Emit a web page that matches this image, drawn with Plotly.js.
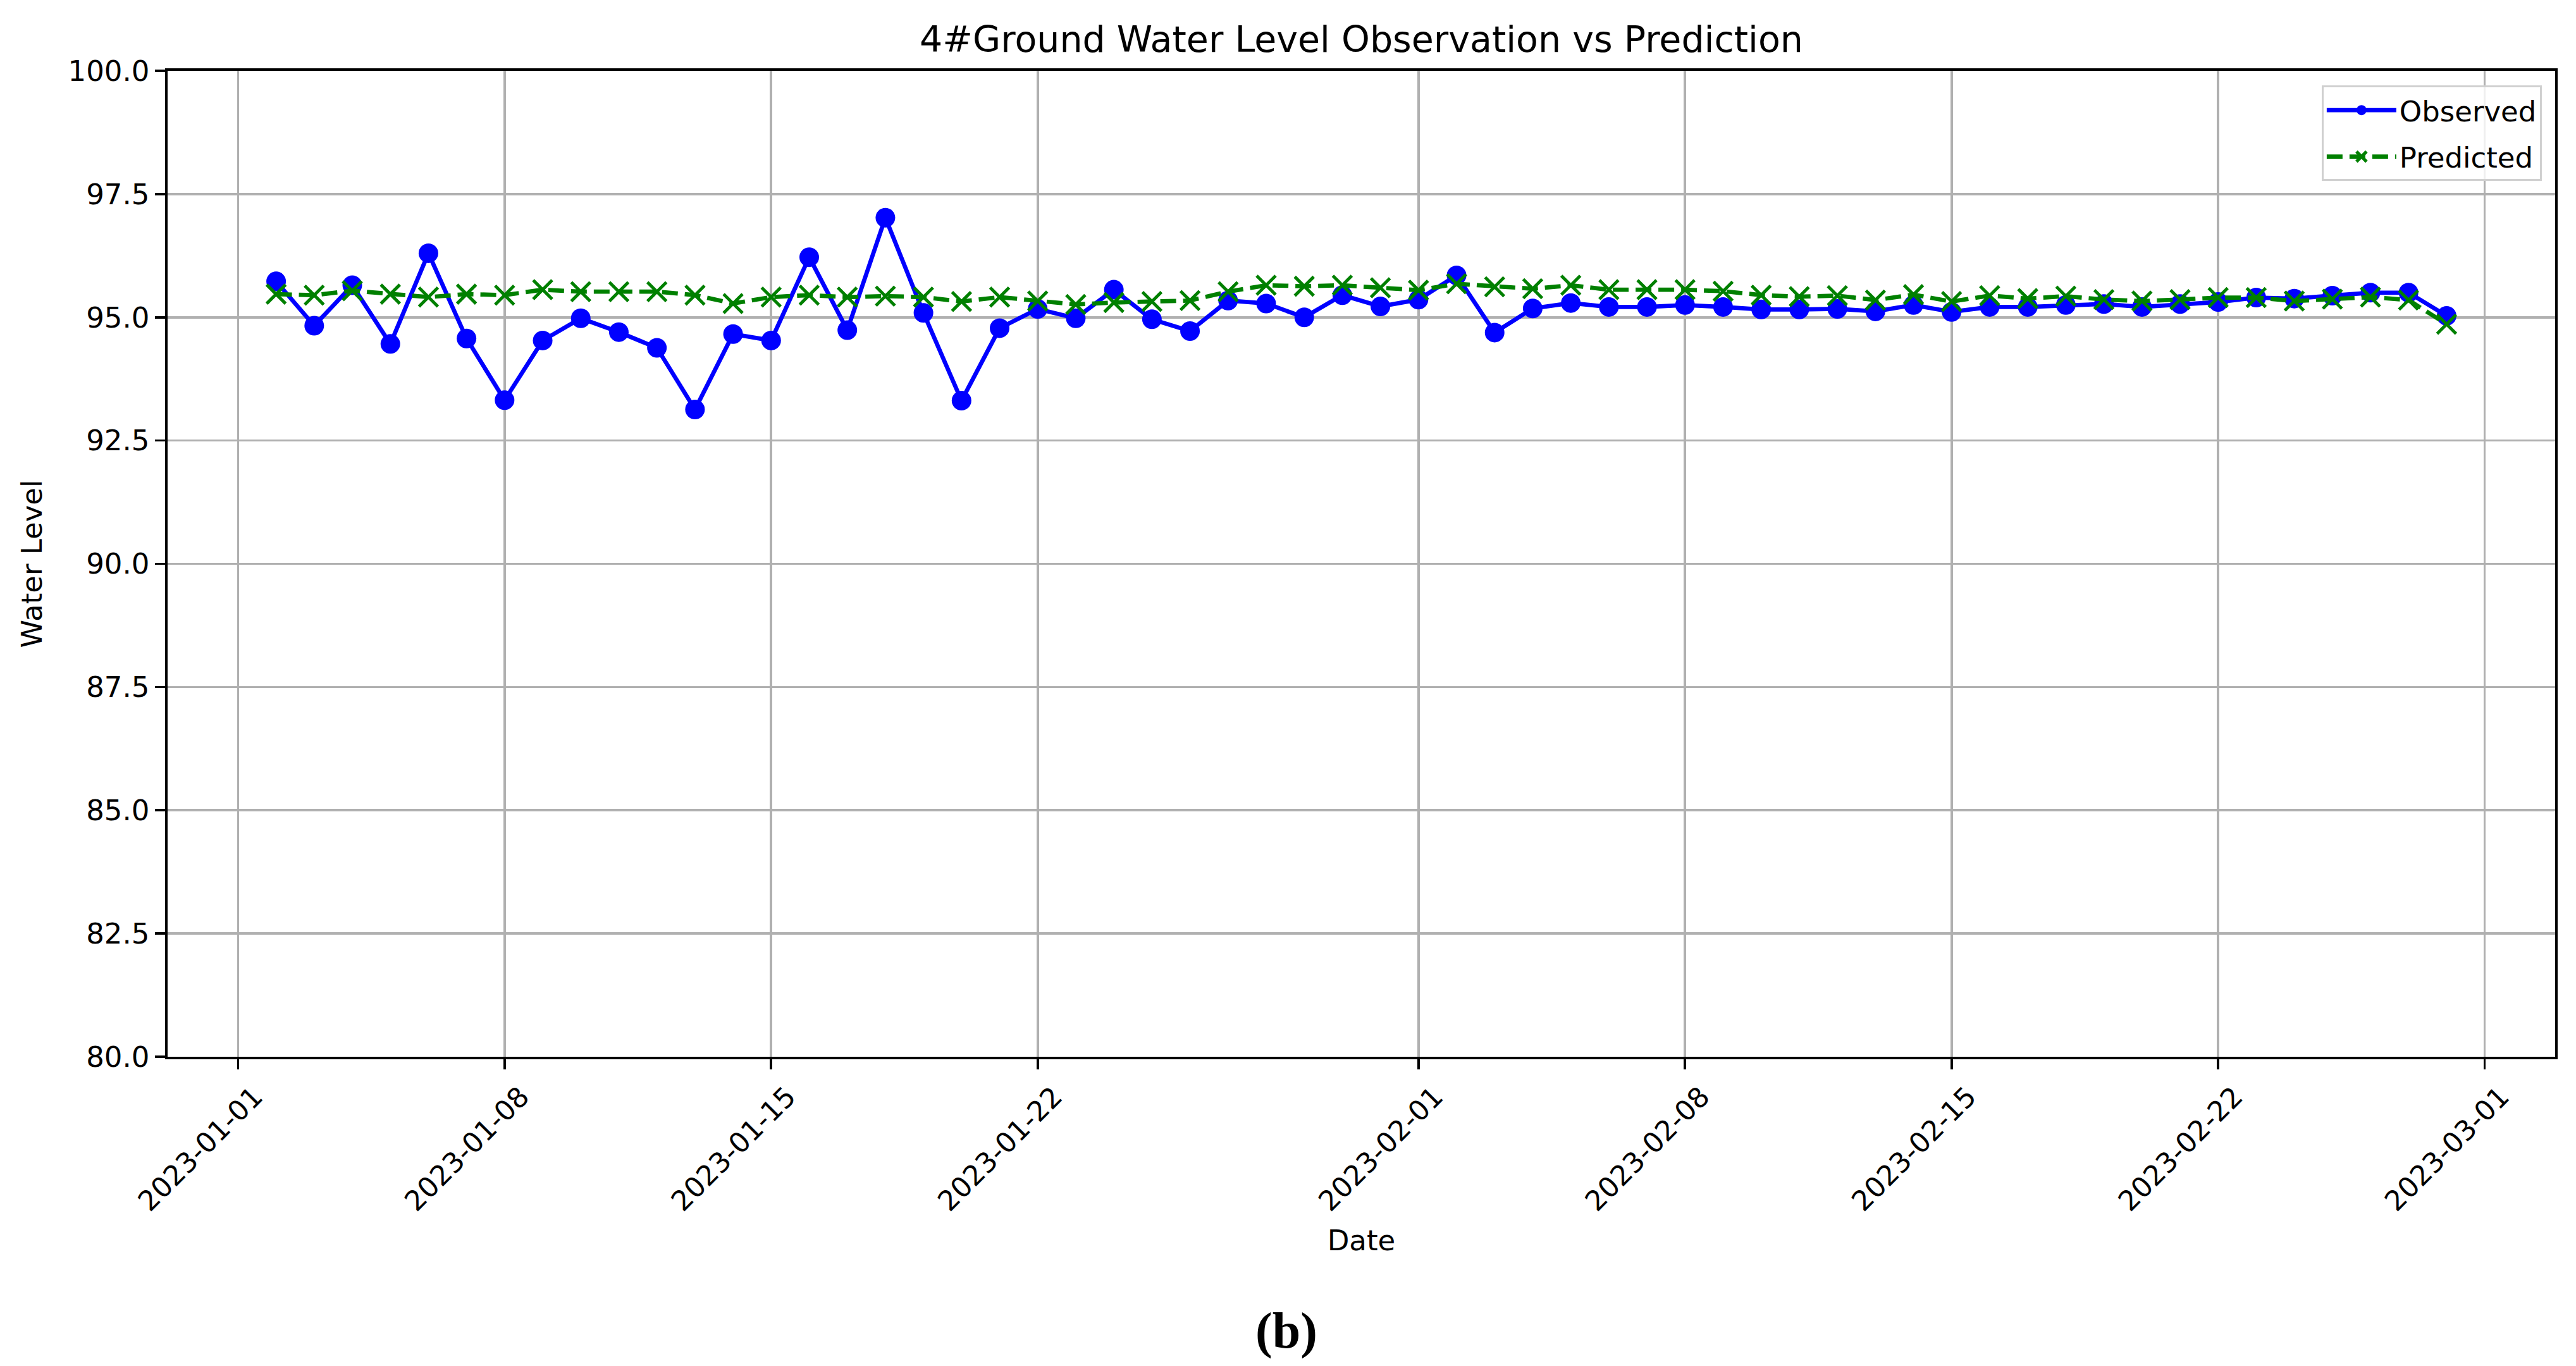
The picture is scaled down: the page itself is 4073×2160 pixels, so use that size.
<!DOCTYPE html>
<html>
<head>
<meta charset="utf-8">
<script src="https://cdn.plot.ly/plotly-3.0.1.min.js"></script>
<style>html,body{margin:0;padding:0;background:#fff;}#chart{width:4073px;height:2160px;}</style>
</head>
<body>
<div id="chart"></div>
<script>
const dates = [
  "2023-01-02","2023-01-03","2023-01-04","2023-01-05","2023-01-06","2023-01-07","2023-01-08",
  "2023-01-09","2023-01-10","2023-01-11","2023-01-12","2023-01-13","2023-01-14","2023-01-15",
  "2023-01-16","2023-01-17","2023-01-18","2023-01-19","2023-01-20","2023-01-21","2023-01-22",
  "2023-01-23","2023-01-24","2023-01-25","2023-01-26","2023-01-27","2023-01-28","2023-01-29","2023-01-30","2023-01-31",
  "2023-02-01","2023-02-02","2023-02-03","2023-02-04","2023-02-05","2023-02-06","2023-02-07",
  "2023-02-08","2023-02-09","2023-02-10","2023-02-11","2023-02-12","2023-02-13","2023-02-14",
  "2023-02-15","2023-02-16","2023-02-17","2023-02-18","2023-02-19","2023-02-20","2023-02-21",
  "2023-02-22","2023-02-23","2023-02-24","2023-02-25","2023-02-26","2023-02-27","2023-02-28"
];
const observed = [
  95.73, 94.83, 95.65, 94.46, 96.30, 94.57, 93.32,
  94.53, 94.98, 94.70, 94.38, 93.13, 94.66, 94.53,
  96.22, 94.74, 97.02, 95.09, 93.31, 94.78, 95.17,
  94.98, 95.56, 94.96, 94.72, 95.34, 95.28, 95.00, 95.45, 95.22,
  95.36, 95.85, 94.69, 95.18, 95.29, 95.21, 95.21,
  95.25, 95.21, 95.16, 95.16, 95.17, 95.12, 95.25,
  95.11, 95.21, 95.21, 95.25, 95.27, 95.21, 95.27,
  95.31, 95.40, 95.38, 95.44, 95.50, 95.50, 95.03
];
const predicted = [
  95.47, 95.45, 95.54, 95.47, 95.41, 95.47, 95.45,
  95.56, 95.52, 95.52, 95.52, 95.45, 95.28, 95.41,
  95.45, 95.41, 95.43, 95.41, 95.32, 95.41, 95.33,
  95.26, 95.30, 95.32, 95.34, 95.52, 95.65, 95.63, 95.65, 95.60,
  95.55, 95.68, 95.62, 95.58, 95.65, 95.56, 95.56,
  95.56, 95.53, 95.45, 95.42, 95.44, 95.35, 95.46,
  95.32, 95.44, 95.38, 95.43, 95.36, 95.33, 95.36,
  95.40, 95.40, 95.33, 95.37, 95.41, 95.35, 94.86
];
const xTickVals = ["2023-01-01","2023-01-08","2023-01-15","2023-01-22","2023-02-01","2023-02-08","2023-02-15","2023-02-22","2023-03-01"];
const xTickText = ["2023-01-01","2023-01-08","2023-01-15","2023-01-22","2023-02-01","2023-02-08","2023-02-15","2023-02-22","2023-03-01"];
const yTickVals = [80.0, 82.5, 85.0, 87.5, 90.0, 92.5, 95.0, 97.5, 100.0];
const yTickText = ["80.0","82.5","85.0","87.5","90.0","92.5","95.0","97.5","100.0"];

const FONT = "DejaVu Sans, Verdana, sans-serif";

const traces = [
  {
    x: dates, y: observed, name: "Observed", type: "scatter", mode: "lines+markers",
    legendgroup: "obs",
    line: {color: "#0000ff", width: 6.75},
    marker: {symbol: "circle", size: 31, color: "#0000ff"}
  },
  {
    x: dates, y: predicted, name: "Predicted", type: "scatter", mode: "lines+markers",
    legendgroup: "pred",
    line: {color: "#008000", width: 6.75, dash: "25px,11px"},
    marker: {symbol: "x-thin-open", size: 30, color: "#008000", line: {color: "#008000", width: 5}}
  }
];

const layout = {
  width: 4073, height: 2160,
  paper_bgcolor: "#ffffff", plot_bgcolor: "#ffffff",
  margin: {l: 265, r: 33, t: 112, b: 489, pad: 0},
  font: {family: FONT, size: 45, color: "#000000"},
  title: {
    text: "4#Ground Water Level Observation vs Prediction",
    font: {family: FONT, size: 57, color: "#000000"},
    xref: "paper", x: 0.5, xanchor: "center",
    yref: "container", y: 1 - 62/2160, yanchor: "middle"
  },
  xaxis: {
    type: "date",
    range: ["2022-12-30 03:36", "2023-03-02 20:24"],
    tickmode: "array", tickvals: xTickVals, ticktext: xTickText,
    tickangle: -45,
    ticklabelshift: 26,
    ticks: "outside", ticklen: 16, tickwidth: 3.6, tickcolor: "#000000",
    showline: true, linewidth: 3.6, linecolor: "#000000", mirror: true,
    showgrid: true, gridcolor: "#b0b0b0", gridwidth: 3.6,
    zeroline: false,
    tickfont: {family: FONT, size: 44, color: "#000000"},
    title: {text: "Date", font: {family: FONT, size: 45, color: "#000000"}, standoff: 22}
  },
  yaxis: {
    range: [80, 100],
    tickmode: "array", tickvals: yTickVals, ticktext: yTickText,
    ticks: "outside", ticklen: 16, tickwidth: 3.6, tickcolor: "#000000",
    showline: true, linewidth: 3.6, linecolor: "#000000", mirror: true,
    showgrid: true, gridcolor: "#b0b0b0", gridwidth: 3.6,
    zeroline: false,
    tickfont: {family: FONT, size: 45, color: "#000000"},
    title: {text: "Water Level", font: {family: FONT, size: 45, color: "#000000"}, standoff: 28}
  },
  legend: {
    x: 0.9944, xanchor: "right", y: 0.985, yanchor: "top",
    bgcolor: "rgba(255,255,255,0.8)", bordercolor: "#d0d0d0", borderwidth: 3,
    font: {family: FONT, size: 45, color: "#000000"},
    itemwidth: 110, traceorder: "grouped", tracegroupgap: 12
  },
  showlegend: true,
  annotations: [
    {
      text: "<b>(b)</b>", xref: "paper", yref: "paper",
      x: (2034-265)/3775, y: (1671-2104)/1559, xanchor: "center", yanchor: "middle",
      showarrow: false,
      font: {family: "Liberation Serif, Times New Roman, serif", size: 80, color: "#000000"}
    }
  ]
};

Plotly.newPlot("chart", traces, layout, {staticPlot: true, displayModeBar: false});
</script>
</body>
</html>
